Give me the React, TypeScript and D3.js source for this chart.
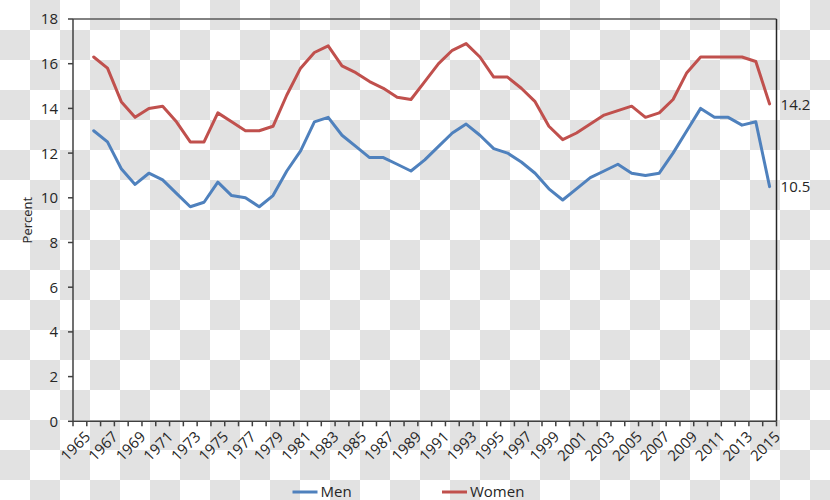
import React from "react";
import * as d3 from "d3";

const categories: number[] = d3.range(1965, 2016);
const years: number[] = d3.range(1966, 2016);
const men: number[] = [
  13.0, 12.5, 11.3, 10.6, 11.1, 10.8, 10.2, 9.6, 9.8, 10.7,
  10.1, 10.0, 9.6, 10.1, 11.2, 12.1, 13.4, 13.6, 12.8, 12.3,
  11.8, 11.8, 11.5, 11.2, 11.7, 12.3, 12.9, 13.3, 12.8, 12.2,
  12.0, 11.6, 11.1, 10.4, 9.9, 10.4, 10.9, 11.2, 11.5, 11.1,
  11.0, 11.1, 12.0, 13.0, 14.0, 13.6, 13.6, 13.25, 13.4, 10.5,
];
const women: number[] = [
  16.3, 15.8, 14.3, 13.6, 14.0, 14.1, 13.4, 12.5, 12.5, 13.8,
  13.4, 13.0, 13.0, 13.2, 14.6, 15.8, 16.5, 16.8, 15.9, 15.6,
  15.2, 14.9, 14.5, 14.4, 15.2, 16.0, 16.6, 16.9, 16.3, 15.4,
  15.4, 14.9, 14.3, 13.2, 12.6, 12.9, 13.3, 13.7, 13.9, 14.1,
  13.6, 13.8, 14.4, 15.6, 16.3, 16.3, 16.3, 16.3, 16.1, 14.2,
];
const yTicks: number[] = [0, 2, 4, 6, 8, 10, 12, 14, 16, 18];
const xLabels: number[] = categories.filter((y) => (y - 1965) % 2 === 0);
const seriesNames = ["Men", "Women"];
const seriesColors = ["#4f81bd", "#c0504d"];

const W = 830;
const H = 500;
const left = 73;
const right = 776.5;
const top = 19;
const bottom = 421.3;
const FONT = "'Open Sans', sans-serif";

export default function App() {
  const x = d3.scaleBand<number>().domain(categories).range([left, right]).padding(0);
  const bw = x.bandwidth();
  const cx = (yr: number) => (x(yr) as number) + bw / 2;
  const y = d3.scaleLinear().domain([0, 18]).range([bottom, top]);

  const line = d3
    .line<number>()
    .x((_, i) => cx(years[i]))
    .y((d) => y(d));

  const series = [men, women];

  return (
    <svg
      width={W}
      height={H}
      style={{ position: "absolute", left: 0, top: 0 }}
      fontFamily={FONT}
    >
      <defs>
        <pattern id="checker" width={60} height={60} patternUnits="userSpaceOnUse">
          <rect width={60} height={60} fill="#ffffff" />
          <rect x={30} y={0} width={30} height={30} fill="#e2e2e2" />
          <rect x={0} y={30} width={30} height={30} fill="#e2e2e2" />
        </pattern>
      </defs>
      <rect width={W} height={H} fill="url(#checker)" />

      {/* plot border top & right */}
      <line x1={left} x2={right} y1={top} y2={top} stroke="#595959" strokeWidth={1.5} />
      <line x1={right} x2={right} y1={top} y2={bottom} stroke="#262626" strokeWidth={1.5} />

      {/* y axis */}
      <line x1={left} x2={left} y1={top} y2={bottom} stroke="#404040" strokeWidth={1.5} />
      {yTicks.map((t) => (
        <g key={t}>
          <line x1={left - 5} x2={left} y1={y(t)} y2={y(t)} stroke="#404040" strokeWidth={1.5} />
          <text x={58} y={y(t)} dy="0.36em" textAnchor="end" fontSize={15} fill="#262626">
            {t}
          </text>
        </g>
      ))}
      <text
        transform={`translate(32,${(top + bottom) / 2}) rotate(-90)`}
        textAnchor="middle"
        fontSize={13}
        fill="#262626"
      >
        Percent
      </text>

      {/* x axis */}
      <line x1={left} x2={right} y1={bottom} y2={bottom} stroke="#404040" strokeWidth={1.5} />
      {categories.concat([2016]).map((c, i) => {
        const xx = i < categories.length ? (x(c) as number) : right;
        return (
          <line key={c} x1={xx} x2={xx} y1={bottom} y2={bottom + 5} stroke="#404040" strokeWidth={1.5} />
        );
      })}
      {xLabels.map((c) => (
        <text
          key={c}
          transform={`translate(${cx(c) + 4},${bottom + 9}) rotate(-45)`}
          textAnchor="end"
          dy="0.7em"
          fontSize={15}
          fill="#262626"
        >
          {c}
        </text>
      ))}

      {/* series */}
      {series.map((s, i) => (
        <path
          key={seriesNames[i]}
          d={line(s) || ""}
          fill="none"
          stroke={seriesColors[i]}
          strokeWidth={3}
          strokeLinejoin="round"
          strokeLinecap="round"
        />
      ))}

      {/* end labels */}
      {series.map((s, i) => (
        <text
          key={"lbl" + i}
          x={cx(years[years.length - 1]) + 11}
          y={y(s[s.length - 1])}
          dy="0.38em"
          fontSize={15}
          fill="#262626"
        >
          {s[s.length - 1].toFixed(1)}
        </text>
      ))}

      {/* legend */}
      {seriesNames.map((n, i) => {
        const lx = 292.5 + i * 149.5;
        return (
          <g key={n}>
            <line x1={lx} x2={lx + 25} y1={492} y2={492} stroke={seriesColors[i]} strokeWidth={3} />
            <text x={lx + 28} y={497} fontSize={15} fill="#262626">
              {n}
            </text>
          </g>
        );
      })}
    </svg>
  );
}
